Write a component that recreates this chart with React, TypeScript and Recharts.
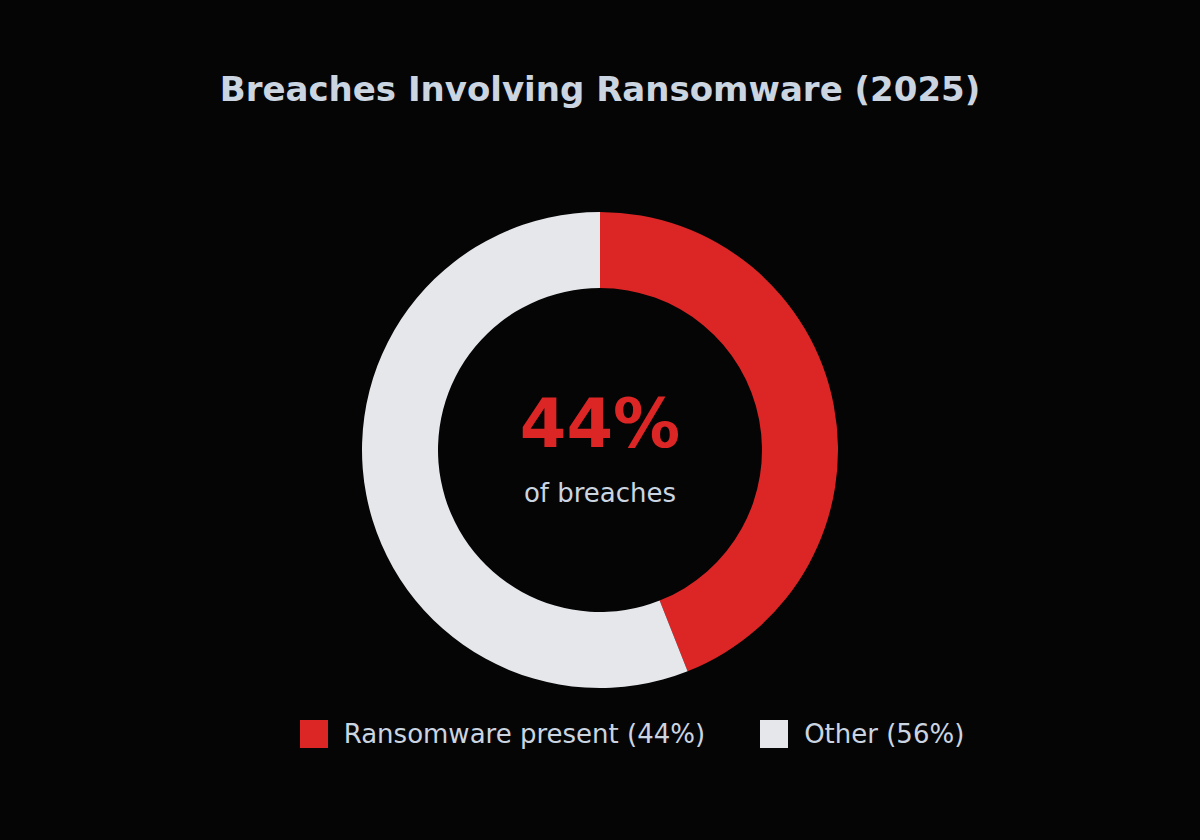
import React from 'react';
import { PieChart, Pie, Cell } from 'recharts';

if (typeof document !== 'undefined') {
  document.body.style.margin = '0';
  document.body.style.background = '#050505';
}

const labels = ['Ransomware present (44%)', 'Other (56%)'];
const values = [44, 56];
const COLORS = ['#dc2626', '#e5e7eb'];
const TEXT = '#cbd5e1';
const FONT = '"DejaVu Sans", sans-serif';

const data = labels.map((name, i) => ({ name, value: values[i] }));

const CX = 600;
const CY = 450;

const ChartLegend = () => (
  <div
    style={{
      position: 'absolute',
      top: 719,
      left: 0,
      width: 1200,
      display: 'flex',
      justifyContent: 'center',
      gap: 55,
      fontFamily: FONT,
      fontSize: 26,
      color: TEXT,
      paddingLeft: 64,
      boxSizing: 'border-box',
    }}
  >
    {data.map((d, i) => (
      <div key={d.name} style={{ display: 'flex', alignItems: 'center' }}>
        <div style={{ width: 28, height: 28, background: COLORS[i], marginRight: 16 }} />
        <span>{d.name}</span>
      </div>
    ))}
  </div>
);

export default function App() {
  return (
    <div style={{ position: 'relative', width: 1200, height: 840, background: '#050505' }}>
      <div
        style={{
          position: 'absolute',
          top: 66,
          width: 1200,
          textAlign: 'center',
          fontFamily: FONT,
          fontWeight: 'bold',
          fontSize: 34,
          color: TEXT,
          lineHeight: '46px',
        }}
      >
        Breaches Involving Ransomware (2025)
      </div>
      <PieChart width={1200} height={840} margin={{ top: 0, right: 0, bottom: 0, left: 0 }}>
        <Pie
          data={data}
          dataKey="value"
          nameKey="name"
          cx={CX}
          cy={CY}
          innerRadius={162}
          outerRadius={238}
          startAngle={90}
          endAngle={-270}
          stroke="none"
          isAnimationActive={false}
        >
          {data.map((entry, index) => (
            <Cell key={`cell-${index}`} fill={COLORS[index]} />
          ))}
        </Pie>
      </PieChart>
      <svg width={1200} height={840} style={{ position: 'absolute', top: 0, left: 0, pointerEvents: 'none' }}>
        <g fontFamily={FONT}>
          <text x={CX} y={CY - 3} textAnchor="middle" fill="#dc2626" fontSize={67} fontWeight="bold">
            {`${values[0]}%`}
          </text>
          <text x={CX} y={CY + 52} textAnchor="middle" fill={TEXT} fontSize={26}>
            of breaches
          </text>
        </g>
      </svg>
      <ChartLegend />
    </div>
  );
}
